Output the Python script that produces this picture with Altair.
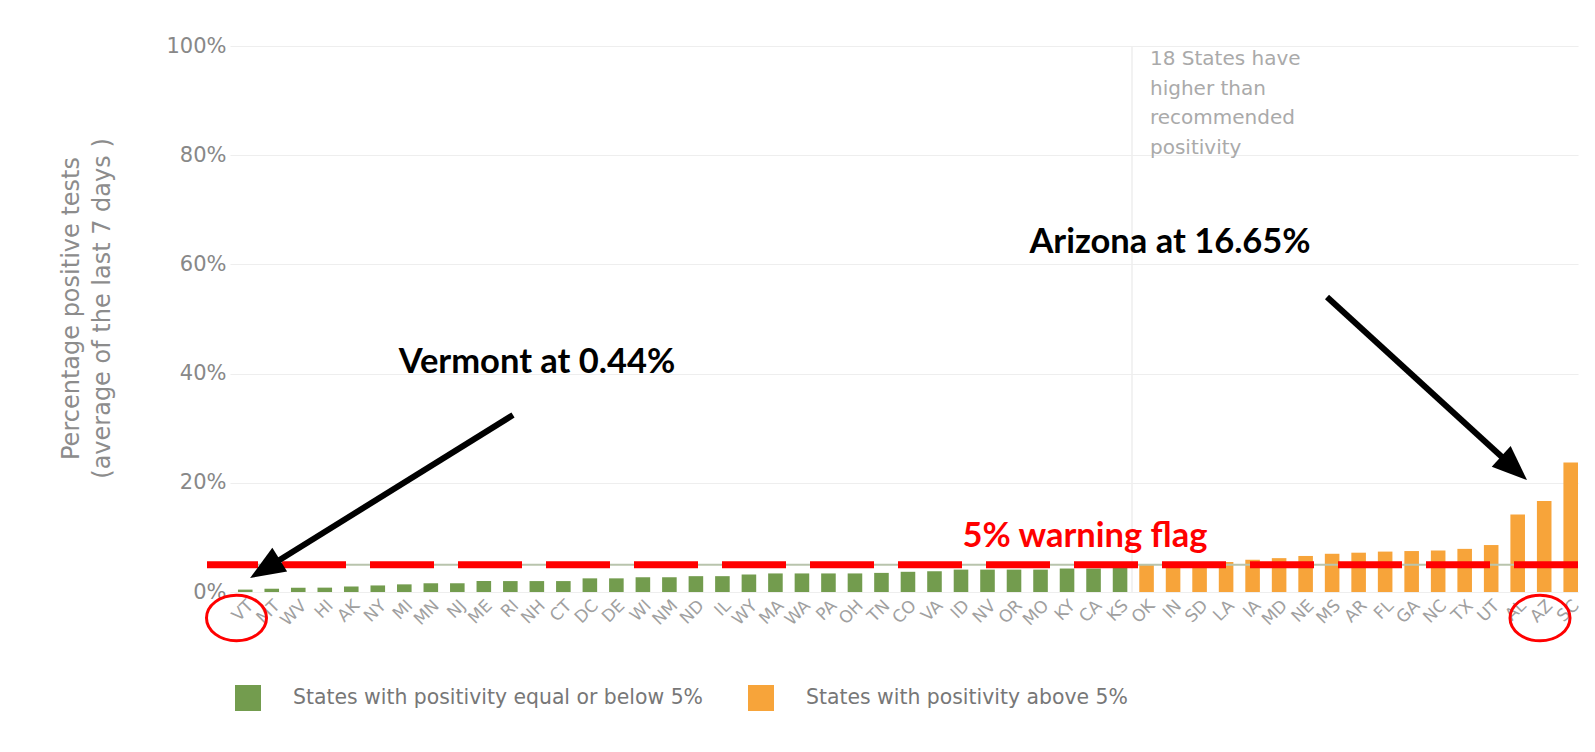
import altair as alt
import pandas as pd

# ---------------- data ----------------
states = ["VT", "MT", "WV", "HI", "AK", "NY", "MI", "MN", "NJ", "ME", "RI", "NH", "CT",
          "DC", "DE", "WI", "NM", "ND", "IL", "WY", "MA", "WA", "PA", "OH", "TN", "CO",
          "VA", "ID", "NV", "OR", "MO", "KY", "CA", "KS",
          "OK", "IN", "SD", "LA", "IA", "MD", "NE", "MS", "AR", "FL", "GA", "NC", "TX",
          "UT", "AL", "AZ", "SC"]
positivity = [0.44, 0.6, 0.8, 0.8, 1.0, 1.2, 1.4, 1.6, 1.6, 2.0, 2.0, 2.0, 2.0,
              2.5, 2.5, 2.7, 2.7, 2.9, 2.9, 3.2, 3.4, 3.4, 3.4, 3.4, 3.5, 3.7,
              3.8, 4.1, 4.1, 4.1, 4.1, 4.3, 4.3, 4.4,
              5.1, 5.1, 5.2, 5.5, 5.9, 6.2, 6.6, 7.0, 7.2, 7.4, 7.5, 7.6, 7.9,
              8.6, 14.2, 16.65, 23.7]
LOW = "States with positivity equal or below 5%"
HIGH = "States with positivity above 5%"
group_names = [LOW, HIGH]
group_colors = ["#739c4e", "#f7a43a"]
y_ticks = [0, 20, 40, 60, 80, 100]
threshold = [5]
y_title = ["Percentage positive tests", "(average of the last 7 days )"]
note_text = ["18 States have", "higher than", "recommended", "positivity"]
callouts = ["Vermont at 0.44%", "Arizona at 16.65%", "5% warning flag"]

groups = [LOW if v <= threshold[0] else HIGH for v in positivity]
df = pd.DataFrame({"state": states, "pct": positivity, "group": groups})
thr = pd.DataFrame({"pct": threshold})

W, H = 1348, 546
FONT = "DejaVu Sans"
BOLD = "Lato"

x_enc = alt.X("state:N", sort=states,
              scale=alt.Scale(paddingInner=0.45, paddingOuter=0.15, align=1),
              axis=alt.Axis(title=None, labelAngle=-45, labelFont=FONT, labelFontSize=17,
                            labelColor="#a0a0a0", ticks=False, domain=False,
                            labelPadding=5, grid=False))
y_enc = alt.Y("pct:Q", scale=alt.Scale(domain=[0, 100], nice=False),
              axis=alt.Axis(values=y_ticks, labelExpr="datum.value + '%'",
                            title=y_title, titleFont=FONT, titleFontSize=24,
                            titleFontWeight="normal", titleColor="#8c8c8c",
                            titleLineHeight=31, titleAngle=270, titleX=-159, titleY=262,
                            titleAlign="center", titleBaseline="middle",
                            labelFont=FONT, labelFontSize=21, labelColor="#888888",
                            labelPadding=4, ticks=False, domain=False,
                            grid=True, gridColor="#eeeeee", gridWidth=1.2))

bars = alt.Chart(df).mark_bar().encode(
    x=x_enc, y=y_enc,
    color=alt.Color("group:N", scale=alt.Scale(domain=group_names, range=group_colors),
                    legend=alt.Legend(title=None, orient="none", legendX=5, legendY=639,
                                      direction="horizontal", symbolType="square",
                                      symbolSize=676, symbolStrokeWidth=0,
                                      labelFont=FONT, labelFontSize=20.4, labelColor="#777777",
                                      labelOffset=32, columnPadding=45, labelLimit=700,
                                      padding=0))
)

# thin reference line at 5%
ref = alt.Chart(thr).mark_rule(color="#b9c4ad", strokeWidth=2).encode(y="pct:Q")

# separator between groups
sep = alt.Chart(thr).mark_rule(color="#eeeeee", strokeWidth=1.5).encode(
    x=alt.value(902), y=alt.value(0), y2=alt.value(H))

note = alt.Chart(thr).mark_text(
    text=note_text, font=FONT, fontSize=20, color="#aaaaaa", align="left",
    baseline="alphabetic", lineHeight=29.5
).encode(x=alt.value(920), y=alt.value(19))

# red dashed warning line
red = alt.Chart(thr).mark_rule(color="#ff0000", strokeWidth=7, strokeDash=[64, 24],
                               strokeDashOffset=13).encode(
    y="pct:Q", x=alt.value(-23), x2=alt.value(W))

t_vt = alt.Chart(thr).mark_text(text=callouts[0], font=BOLD, fontWeight="bold", fontSize=34.5,
                                color="black", align="center", baseline="alphabetic").encode(
    x=alt.value(307), y=alt.value(327))
t_az = alt.Chart(thr).mark_text(text=callouts[1], font=BOLD, fontWeight="bold", fontSize=34.5,
                                color="black", align="center", baseline="alphabetic").encode(
    x=alt.value(940), y=alt.value(207))
t_flag = alt.Chart(thr).mark_text(text=callouts[2], font=BOLD, fontWeight="bold", fontSize=34.5,
                                  color="#ff0000", align="center", baseline="alphabetic").encode(
    x=alt.value(855), y=alt.value(501))

# arrows
ARROW_HEAD = "M0,-1L0.8,1L-0.8,1Z"
a1 = alt.Chart(thr).mark_rule(color="black", strokeWidth=6).encode(
    x=alt.value(283), y=alt.value(369), x2=alt.value(35), y2=alt.value(523))
h1 = alt.Chart(thr).mark_point(shape=ARROW_HEAD, size=1225, filled=True, color="black",
                               opacity=1, strokeWidth=0, angle=238).encode(
    x=alt.value(34.9), y=alt.value(522.8))
a2 = alt.Chart(thr).mark_rule(color="black", strokeWidth=6).encode(
    x=alt.value(1097), y=alt.value(251), x2=alt.value(1284), y2=alt.value(422))
h2 = alt.Chart(thr).mark_point(shape=ARROW_HEAD, size=1225, filled=True, color="black",
                               opacity=1, strokeWidth=0, angle=132.5).encode(
    x=alt.value(1284.1), y=alt.value(422.2))

# red ellipses around VT and AZ labels
ELLIPSE = "M-1,0A1,0.76,0,1,0,1,0A1,0.76,0,1,0,-1,0Z"
e1 = alt.Chart(thr).mark_point(shape=ELLIPSE, size=3600, filled=False, color="#ff0000",
                               opacity=1, strokeWidth=3).encode(
    x=alt.value(6.5), y=alt.value(572))
e2 = alt.Chart(thr).mark_point(shape=ELLIPSE, size=3600, filled=False, color="#ff0000",
                               opacity=1, strokeWidth=3).encode(
    x=alt.value(1310), y=alt.value(572))

chart = alt.layer(sep, bars, ref, note, red, t_vt, t_az, t_flag, a1, h1, a2, h2, e1, e2).properties(
    width=W, height=H,
    autosize=alt.AutoSizeParams(type="none"),
    padding={"left": 222, "top": 38, "right": 8, "bottom": 146},
    background="white",
).configure_view(stroke=None)

chart.save("out.html", embed_options={"renderer": "svg", "actions": False})
